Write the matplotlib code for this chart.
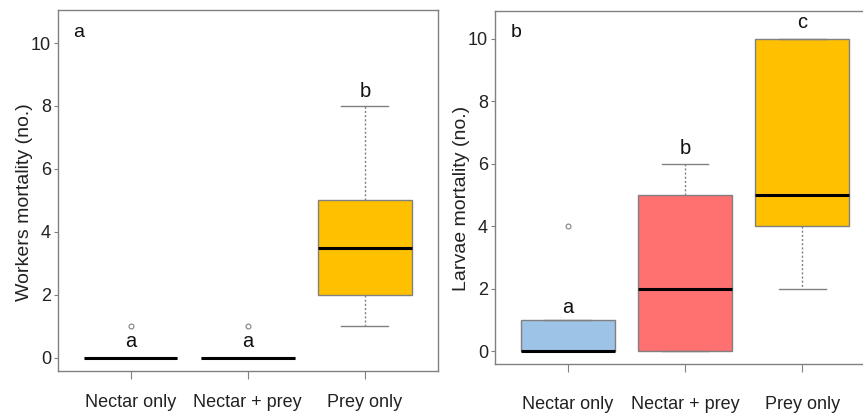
import matplotlib.pyplot as plt

plt.rcParams['font.family'] = ['Liberation Sans', 'DejaVu Sans']

grupos = ['Nectar only', 'Nectar + prey', 'Prey only']
cores = ['#9DC3E6', '#FF7070', '#FFC000']

# Painel a: mortalidade de operárias (estatísticas)
op_q1 = [0, 0, 2]
op_med = [0, 0, 3.5]
op_q3 = [0, 0, 5]
op_min = [0, 0, 1]
op_max = [0, 0, 8]
op_out = [[1], [1], []]
op_letras = ['a', 'a', 'b']
op_letras_y = [0.52, 0.52, 8.45]

# Painel b: mortalidade de larvas
lv_q1 = [0, 0, 4]
lv_med = [0, 2, 5]
lv_q3 = [1, 5, 10]
lv_min = [0, 0, 2]
lv_max = [1, 6, 10]
lv_out = [[4], [], []]
lv_letras = ['a', 'b', 'c']
lv_letras_y = [1.4, 6.5, 10.5]

cinza = '#808080'


def painel(ax, q1, med, q3, wlo, whi, out, letras, letras_y, ylabel, tag, ylim, xpad):
    stats = []
    for i in range(len(grupos)):
        stats.append(dict(q1=q1[i], med=med[i], q3=q3[i], whislo=wlo[i],
                          whishi=whi[i], fliers=out[i], label=grupos[i]))
    bp = ax.bxp(stats, positions=[1, 2, 3], widths=0.8, capwidths=0.4,
                patch_artist=True, showfliers=True,
                boxprops=dict(edgecolor=cinza, linewidth=1),
                medianprops=dict(color='black', linewidth=2.2),
                whiskerprops=dict(color=cinza, linewidth=1, linestyle=(0, (1.5, 1.5))),
                capprops=dict(color=cinza, linewidth=1),
                flierprops=dict(marker='o', markersize=3.5, markerfacecolor='none',
                                markeredgecolor=cinza, markeredgewidth=0.8))
    for caixa, c in zip(bp['boxes'], cores):
        caixa.set_facecolor(c)
    for i, (l, y) in enumerate(zip(letras, letras_y)):
        ax.text(i + 1, y, l, ha='center', va='center', fontsize=14.5, color='#111111')
    ax.set_xlim(0.38, 3.62)
    ax.set_ylim(*ylim)
    ax.set_yticks([0, 2, 4, 6, 8, 10])
    ax.set_ylabel(ylabel, fontsize=14, color='#222222')
    ax.yaxis.set_label_coords(-0.067, 0.468)
    ax.tick_params(axis='y', length=3, color=cinza, pad=2, labelsize=13, labelcolor='#222222')
    ax.tick_params(axis='x', length=6, color=cinza, pad=xpad, labelsize=13, labelcolor='#222222')
    for s in ax.spines.values():
        s.set_color(cinza)
        s.set_linewidth(1)
    ax.text(0.055, 0.939, tag, transform=ax.transAxes, ha='center', va='center',
            fontsize=14, color='#111111')


fig = plt.figure(figsize=(8.63, 4.13), dpi=100)
ax1 = fig.add_axes([0.0672, 0.1017, 0.4398, 0.8741])
ax2 = fig.add_axes([0.5736, 0.1186, 0.4403, 0.8548])

painel(ax1, op_q1, op_med, op_q3, op_min, op_max, op_out, op_letras, op_letras_y,
       'Workers mortality (no.)', 'a', (-0.42, 11.05), 10.5)
painel(ax2, lv_q1, lv_med, lv_q3, lv_min, lv_max, lv_out, lv_letras, lv_letras_y,
       'Larvae mortality (no.)', 'b', (-0.4, 10.88), 17)

fig.savefig('out.png', dpi=100)
